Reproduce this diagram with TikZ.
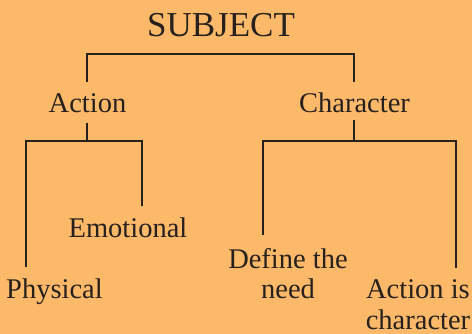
\documentclass[tikz,border=0pt]{standalone}
\usepackage{fontspec}
\setmainfont{Liberation Serif}
\definecolor{bg}{RGB}{252,185,106}
\definecolor{ink}{RGB}{38,33,30}
\begin{document}
\begin{tikzpicture}[x=1pt,y=-1pt,
  lbl/.style={anchor=base,inner sep=0pt,text=ink,align=center,font=\fontsize{28.5}{31}\selectfont},
  ttl/.style={anchor=base,inner sep=0pt,text=ink,font=\fontsize{35}{40}\selectfont},
  conn/.style={draw=ink,line width=2.6pt,line cap=butt,line join=miter}]
\fill[bg] (0,0) rectangle (472,334);
\useasboundingbox (0,0) rectangle (472,334);
\node[ttl] (subj) at (221,37) {SUBJECT};
\node[lbl] (act) at (87.5,113) {Action};
\node[lbl] (chr) at (354.5,113) {Character};
\node[lbl] (emo) at (128,238) {Emotional};
\node[lbl] (phy) at (54.5,299) {Physical};
\node[lbl] (def) at (288,299) {Define the\\need};
\node[lbl] (aic) at (418,330) {Action is\\character};
% connector end points
\coordinate (s1) at (87,54);
\coordinate (s2) at (354,54);
\coordinate (a0) at (87,82);
\coordinate (c0) at (354,82);
\coordinate (a1) at (87,123);
\coordinate (a2) at (87,141);
\coordinate (pt) at (26,267);
\coordinate (et) at (142,206);
\coordinate (c1) at (354,120);
\coordinate (c2) at (354,141);
\coordinate (dt) at (263,235);
\coordinate (it) at (456,268);
\draw[conn] (a0) -- (s1) -- (s2) -- (c0);
\draw[conn] (a1) -- (a2);
\draw[conn] (pt) |- (a2) -| (et);
\draw[conn] (c1) -- (c2);
\draw[conn] (dt) |- (c2) -| (it);
\end{tikzpicture}
\end{document}
